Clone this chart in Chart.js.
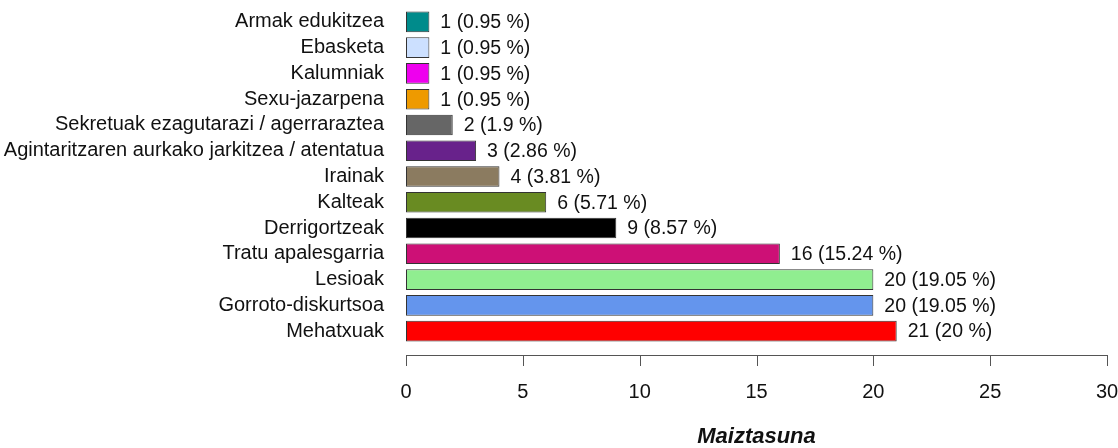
<!DOCTYPE html>
<html>
<head>
<meta charset="utf-8">
<script src="https://cdn.jsdelivr.net/npm/chart.js@4"></script>
<style>
  html, body { margin: 0; padding: 0; background: #fff; }
  #wrap { width: 1118px; height: 448px; }
</style>
</head>
<body>
<div id="wrap"><canvas id="chart" width="1118" height="448"></canvas></div>
<script>
// Data
const categories = [
    'Armak edukitzea',
    'Ebasketa',
    'Kalumniak',
    'Sexu-jazarpena',
    'Sekretuak ezagutarazi / agerraraztea',
    'Agintaritzaren aurkako jarkitzea / atentatua',
    'Irainak',
    'Kalteak',
    'Derrigortzeak',
    'Tratu apalesgarria',
    'Lesioak',
    'Gorroto-diskurtsoa',
    'Mehatxuak'
];
const counts = [1, 1, 1, 1, 2, 3, 4, 6, 9, 16, 20, 20, 21];
const percents = ['0.95', '0.95', '0.95', '0.95', '1.9', '2.86', '3.81', '5.71', '8.57', '15.24', '19.05', '19.05', '20'];
const barColors = [
    '#008b8b', '#cce0ff', '#ee00ee', '#ee9a00', '#666666', '#68228b', '#8b7b60',
    '#698b22', '#000000', '#cd1076', '#90ee90', '#6495ed', '#ff0000'
];
const xTicks = [0, 5, 10, 15, 20, 25, 30];

const FONT = 'Liberation Sans, Arial, sans-serif';
const TEXT = '#111';

// Value labels next to each bar
const valueLabels = {
    id: 'valueLabels',
    afterDatasetsDraw(chart) {
        const ctx = chart.ctx;
        const meta = chart.getDatasetMeta(0);
        ctx.save();
        ctx.font = '19.5px ' + FONT;
        ctx.fillStyle = TEXT;
        ctx.textAlign = 'left';
        ctx.textBaseline = 'middle';
        meta.data.forEach((bar, i) => {
            ctx.fillText(counts[i] + ' (' + percents[i] + ' %)', bar.x + 11, bar.y + 1);
        });
        ctx.restore();
    }
};

// R style detached x axis: line and ticks below the plot
const detachedAxis = {
    id: 'detachedAxis',
    afterDraw(chart) {
        const ctx = chart.ctx;
        const x = chart.scales.x;
        const y0 = Math.round(chart.chartArea.bottom) + 11;
        ctx.save();
        ctx.strokeStyle = '#555';
        ctx.lineWidth = 1;
        ctx.beginPath();
        ctx.moveTo(Math.round(x.getPixelForValue(xTicks[0])), y0 + 0.5);
        ctx.lineTo(Math.round(x.getPixelForValue(xTicks[xTicks.length - 1])) + 1, y0 + 0.5);
        xTicks.forEach(v => {
            const px = Math.round(x.getPixelForValue(v)) + 0.5;
            ctx.moveTo(px, y0);
            ctx.lineTo(px, y0 + 11);
        });
        ctx.stroke();
        ctx.restore();
    }
};

const chart = new Chart(document.getElementById('chart'), {
    type: 'bar',
    data: {
        labels: categories,
        datasets: [{
            data: counts,
            backgroundColor: barColors,
            borderColor: '#333',
            borderWidth: 1,
            borderSkipped: false,
            barPercentage: 0.8,
            categoryPercentage: 1.0
        }]
    },
    options: {
        indexAxis: 'y',
        responsive: false,
        animation: false,
        layout: { padding: { top: 9, right: 11, bottom: 0, left: 0 } },
        plugins: {
            legend: { display: false },
            tooltip: { enabled: false }
        },
        scales: {
            x: {
                min: 0,
                max: 30,
                afterBuildTicks: s => { s.ticks = xTicks.map(v => ({ value: v })); },
                afterFit: s => { s.height = 104; s.paddingLeft = 0; s.paddingRight = 0; },
                grid: { display: false, drawTicks: false },
                border: { display: false },
                ticks: {
                    font: { family: FONT, size: 20 },
                    color: TEXT,
                    padding: 36,
                    maxRotation: 0
                },
                title: {
                    display: true,
                    text: 'Maiztasuna',
                    font: { family: FONT, size: 22, weight: 'bold', style: 'italic' },
                    color: TEXT,
                    padding: { top: 0, bottom: -2 }
                }
            },
            y: {
                afterFit: s => { s.width = 406; s.paddingTop = 0; s.paddingBottom = 0; },
                grid: { display: false, drawTicks: false },
                border: { display: false },
                ticks: {
                    font: { family: FONT, size: 20 },
                    color: TEXT,
                    padding: 22,
                    autoSkip: false
                }
            }
        }
    },
    plugins: [valueLabels, detachedAxis]
});
</script>
</body>
</html>
